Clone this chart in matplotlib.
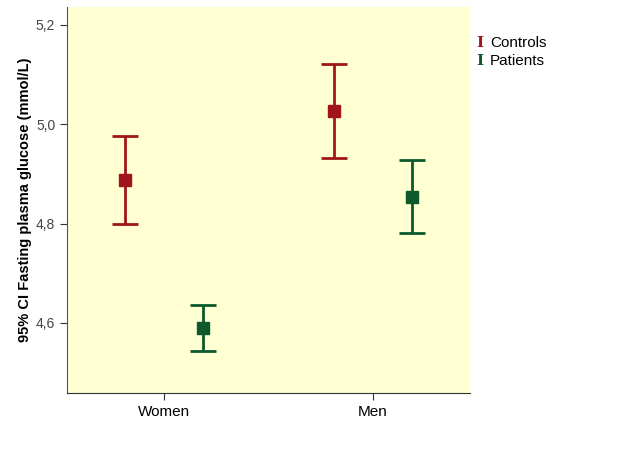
import matplotlib
matplotlib.use("Agg")
import matplotlib.pyplot as plt
import matplotlib.ticker as ticker
import numpy as np

plt.rcParams['font.family'] = ['Liberation Sans', 'DejaVu Sans']

categories = ["Women", "Men"]
groups = ["Controls", "Patients"]
means = {"Controls": [4.888, 5.027], "Patients": [4.590, 4.854]}
lower = {"Controls": [4.800, 4.932], "Patients": [4.544, 4.781]}
upper = {"Controls": [4.977, 5.121], "Patients": [4.636, 4.928]}
colors = {"Controls": "#A0141C", "Patients": "#0C5A2C"}
offsets = {"Controls": -0.186, "Patients": 0.186}

fig = plt.figure(figsize=(6.29, 4.59), dpi=100)
ax = fig.add_axes([67 / 629, 1 - 393 / 459, 403 / 629, 386 / 459])
ax.set_facecolor("#FFFFD2")

x = np.arange(len(categories))
for g in groups:
    m = np.array(means[g])
    err = [m - np.array(lower[g]), np.array(upper[g]) - m]
    ax.errorbar(x + offsets[g], m, yerr=err, fmt='s', color=colors[g],
                markersize=8.5, elinewidth=2, capsize=9.5, capthick=2)

ax.set_xlim(-0.464, 1.464)
ax.set_ylim(4.459, 5.236)
ax.set_xticks(x)
ax.set_xticklabels(categories, fontsize=11)
ax.yaxis.set_major_locator(ticker.MultipleLocator(0.2))
ax.yaxis.set_major_formatter(ticker.FuncFormatter(lambda v, p: f"{v:.1f}".replace(".", ",")))
ax.tick_params(axis='y', labelsize=10, labelcolor="#444444", length=5, color="#333333")
ax.tick_params(axis='x', length=5, color="#333333", pad=4)
ax.spines['top'].set_visible(False)
ax.spines['right'].set_visible(False)
ax.spines['left'].set_color("#555555")
ax.spines['bottom'].set_color("#333333")
ax.set_ylabel("95% CI Fasting plasma glucose (mmol/L)", fontsize=10.5, fontweight='bold', labelpad=3)

# legend to the right of the plot
for i, g in enumerate(groups):
    y = 1 - (43 + 18 * i) / 459
    fig.text(480 / 629, y, "I", color=colors[g], family="DejaVu Serif",
             fontweight='bold', fontsize=11, ha='center', va='center')
    fig.text(490 / 629, y, g, fontsize=11, ha='left', va='center')

fig.savefig("out.png", dpi=100)
